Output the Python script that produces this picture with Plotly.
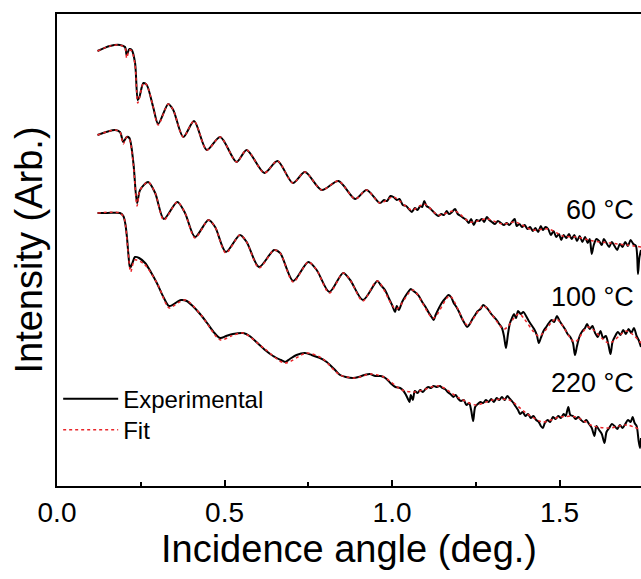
import plotly.graph_objects as go

# ---------------- data (x: incidence angle in deg., y: intensity, arb. units, offset) -------------
exp60_x = [0.121, 0.158, 0.188, 0.203, 0.208, 0.216, 0.223, 0.233, 0.241, 0.246, 0.258, 0.268,
           0.287, 0.302, 0.332, 0.347, 0.377, 0.409, 0.447, 0.487, 0.536, 0.566, 0.619, 0.658,
           0.704, 0.740, 0.790, 0.840, 0.890, 0.924, 0.964, 0.976, 0.985, 0.995, 1.004, 1.014,
           1.022, 1.032, 1.042, 1.050, 1.059, 1.068, 1.076, 1.084, 1.090, 1.096, 1.103, 1.112,
           1.121, 1.130, 1.138, 1.147, 1.155, 1.163, 1.170, 1.179, 1.188, 1.196, 1.205, 1.213,
           1.222, 1.229, 1.236, 1.244, 1.252, 1.260, 1.268, 1.275, 1.283, 1.290, 1.298, 1.307,
           1.316, 1.325, 1.334, 1.342, 1.350, 1.358, 1.366, 1.372, 1.380, 1.388, 1.396, 1.404,
           1.412, 1.420, 1.428, 1.436, 1.444, 1.450, 1.458, 1.466, 1.474, 1.482, 1.490, 1.498,
           1.505, 1.512, 1.520, 1.528, 1.536, 1.544, 1.552, 1.560, 1.568, 1.576, 1.584, 1.590,
           1.596, 1.602, 1.610, 1.618, 1.626, 1.632, 1.640, 1.648, 1.656, 1.664, 1.672, 1.680,
           1.688, 1.696, 1.704, 1.712, 1.720, 1.728, 1.734, 1.738, 1.743]
exp60_y = [435, 440, 441, 439, 431, 437, 436, 423, 386, 389, 403, 401,
           379, 362, 382, 376, 349, 365, 336, 349, 324, 336, 313, 325,
           303, 314, 296, 305, 287, 296, 283, 286, 285, 290, 289, 286,
           287, 281, 280, 277, 274, 278, 276, 280, 279, 285, 280, 278,
           275, 272, 270, 272, 271, 275, 272, 274, 277, 272, 270, 268,
           266, 263, 267, 261, 266, 265, 267, 264, 269, 266, 264, 262,
           265, 263, 261, 263, 261, 264, 267, 260, 262, 259, 261, 257,
           259, 255, 258, 254, 260, 256, 259, 257, 251, 255, 249, 252,
           246, 251, 248, 252, 247, 251, 245, 250, 244, 249, 243, 247,
           232, 241, 247, 245, 241, 247, 243, 239, 244, 240, 236, 242,
           239, 244, 240, 246, 242, 240, 212, 228, 236]

fit60_x = [0.121, 0.158, 0.188, 0.203, 0.208, 0.216, 0.223, 0.233, 0.241, 0.246, 0.258, 0.268,
           0.287, 0.302, 0.332, 0.347, 0.377, 0.409, 0.447, 0.487, 0.536, 0.566, 0.619, 0.658,
           0.704, 0.740, 0.790, 0.840, 0.890, 0.924, 0.964, 1.004, 1.059, 1.096, 1.138, 1.188,
           1.233, 1.283, 1.330, 1.367, 1.420, 1.467, 1.510, 1.550, 1.600, 1.650, 1.700, 1.743]
fit60_y = [435, 440, 441, 438, 428, 436, 435, 421, 383, 388, 403, 401,
           379, 361, 382, 376, 349, 365, 336, 349, 324, 336, 313, 325,
           303, 314, 296, 305, 287, 296, 283, 289, 276, 282, 271, 275,
           264, 267, 262, 264, 256, 257, 250, 249, 245, 243, 241, 239]

exp100_x = [0.121, 0.173, 0.188, 0.198, 0.208, 0.216, 0.228, 0.239, 0.248, 0.272, 0.293, 0.319,
            0.359, 0.382, 0.412, 0.452, 0.472, 0.504, 0.546, 0.566, 0.603, 0.648, 0.666, 0.705,
            0.750, 0.775, 0.813, 0.854, 0.875, 0.913, 0.956, 0.966, 0.979, 0.990, 1.000, 1.009,
            1.014, 1.020, 1.030, 1.040, 1.048, 1.056, 1.064, 1.072, 1.080, 1.090, 1.100, 1.110,
            1.118, 1.124, 1.130, 1.140, 1.150, 1.160, 1.168, 1.176, 1.184, 1.192, 1.200, 1.208,
            1.216, 1.224, 1.232, 1.240, 1.248, 1.256, 1.264, 1.272, 1.280, 1.288, 1.296, 1.304,
            1.312, 1.320, 1.328, 1.334, 1.340, 1.346, 1.352, 1.358, 1.364, 1.370, 1.376, 1.384,
            1.392, 1.400, 1.408, 1.416, 1.424, 1.432, 1.438, 1.444, 1.452, 1.460, 1.468, 1.476,
            1.484, 1.492, 1.500, 1.508, 1.516, 1.524, 1.532, 1.540, 1.546, 1.552, 1.560, 1.568,
            1.576, 1.582, 1.590, 1.598, 1.606, 1.614, 1.622, 1.630, 1.638, 1.646, 1.652, 1.658,
            1.666, 1.674, 1.682, 1.690, 1.698, 1.706, 1.714, 1.722, 1.730, 1.736, 1.743]
exp100_y = [351, 356, 354, 344, 349, 348, 323, 283, 296, 304, 293, 267,
            284, 273, 249, 266, 259, 234, 251, 244, 219, 236, 233, 205,
            224, 216, 194, 213, 206, 186, 205, 201, 196, 188, 181, 174,
            180, 176, 184, 190, 194, 197, 195, 193, 190, 184, 179, 173,
            169, 166, 171, 178, 184, 188, 191, 189, 183, 179, 174, 168,
            163, 159, 162, 167, 171, 175, 177, 181, 179, 176, 172, 169,
            166, 162, 158, 150, 138, 152, 163, 168, 172, 168, 175, 172,
            174, 170, 165, 161, 157, 151, 143, 148, 155, 159, 163, 166,
            164, 170, 165, 161, 157, 152, 149, 143, 131, 140, 150, 155,
            158, 162, 157, 160, 153, 149, 155, 148, 150, 141, 132, 144,
            150, 154, 151, 156, 152, 157, 153, 158, 150, 146, 139]

fit100_x = [0.121, 0.173, 0.188, 0.198, 0.208, 0.216, 0.228, 0.239, 0.248, 0.272, 0.293, 0.319,
            0.359, 0.382, 0.412, 0.452, 0.472, 0.504, 0.546, 0.566, 0.603, 0.648, 0.666, 0.705,
            0.750, 0.775, 0.813, 0.854, 0.875, 0.913, 0.956, 1.012, 1.062, 1.123, 1.172, 1.225,
            1.273, 1.335, 1.378, 1.438, 1.490, 1.545, 1.585, 1.648, 1.700, 1.743]
fit100_y = [351, 356, 354, 342, 349, 347, 321, 280, 296, 304, 293, 266,
            284, 273, 248, 266, 259, 233, 251, 244, 218, 236, 233, 204,
            224, 216, 193, 213, 206, 185, 205, 177, 196, 168, 190, 161,
            180, 157, 172, 150, 167, 144, 159, 143, 155, 143]

exp220_x = [0.121, 0.150, 0.188, 0.198, 0.204, 0.209, 0.213, 0.218, 0.224, 0.233, 0.245, 0.263,
            0.280, 0.298, 0.316, 0.334, 0.345, 0.358, 0.370, 0.387, 0.405, 0.427, 0.448, 0.470,
            0.487, 0.505, 0.525, 0.556, 0.575, 0.595, 0.621, 0.645, 0.668, 0.681, 0.695, 0.715,
            0.740, 0.760, 0.785, 0.805, 0.830, 0.845, 0.862, 0.884, 0.900, 0.918, 0.934, 0.950,
            0.966, 0.980, 0.995, 1.010, 1.024, 1.032, 1.040, 1.046, 1.052, 1.056, 1.062, 1.068,
            1.076, 1.084, 1.092, 1.100, 1.108, 1.116, 1.124, 1.132, 1.143, 1.150, 1.158, 1.166,
            1.174, 1.183, 1.190, 1.198, 1.206, 1.214, 1.222, 1.230, 1.236, 1.242, 1.248, 1.256,
            1.264, 1.272, 1.280, 1.288, 1.296, 1.304, 1.312, 1.320, 1.328, 1.336, 1.344, 1.352,
            1.360, 1.368, 1.376, 1.382, 1.390, 1.398, 1.406, 1.414, 1.422, 1.430, 1.438, 1.444,
            1.450, 1.456, 1.464, 1.472, 1.480, 1.488, 1.496, 1.504, 1.512, 1.518, 1.526, 1.532,
            1.540, 1.548, 1.556, 1.564, 1.572, 1.580, 1.588, 1.596, 1.604, 1.610, 1.618, 1.626,
            1.634, 1.640, 1.648, 1.656, 1.664, 1.672, 1.680, 1.688, 1.696, 1.704, 1.712, 1.718,
            1.724, 1.730, 1.736, 1.740, 1.743]
exp220_y = [273, 273, 273, 270, 262, 248, 232, 218, 222, 229, 228, 223,
            214, 203, 190, 180, 181, 184, 186, 185, 180, 172, 163, 153,
            148, 150, 152, 153, 150, 144, 136, 130, 126, 124, 127, 131,
            133, 131, 128, 124, 116, 111, 109, 108, 109, 111, 112, 110,
            110, 108, 103, 99, 98, 96, 92, 88, 84, 91, 86, 95,
            93, 96, 94, 97, 99, 98, 100, 99, 100, 98, 97, 94,
            92, 89, 91, 87, 85, 86, 81, 83, 76, 65, 79, 82,
            84, 83, 86, 84, 87, 84, 88, 86, 89, 86, 90, 87,
            84, 80, 76, 72, 74, 70, 72, 68, 70, 66, 64, 60,
            58, 63, 66, 64, 69, 67, 70, 68, 72, 70, 79, 71,
            70, 67, 69, 66, 64, 66, 62, 58, 50, 60, 56, 52,
            43, 54, 58, 62, 60, 57, 61, 58, 62, 66, 64, 69,
            63, 60, 45, 38, 48]

fit220_x = [0.121, 0.188, 0.200, 0.212, 0.220, 0.232, 0.260, 0.300, 0.335, 0.360, 0.385, 0.430,
            0.488, 0.520, 0.556, 0.620, 0.680, 0.745, 0.790, 0.845, 0.890, 0.935, 0.975, 1.030,
            1.070, 1.140, 1.200, 1.250, 1.300, 1.350, 1.400, 1.450, 1.500, 1.550, 1.600, 1.650,
            1.700, 1.743]
fit220_y = [273, 273, 268, 235, 214, 226, 222, 202, 178, 183, 186, 171,
            146, 150, 153, 137, 123, 133, 128, 111, 108, 112, 109, 96,
            94, 100, 88, 81, 86, 86, 73, 64, 69, 69, 60, 58,
            61, 56]

curve_labels = ["60 °C", "100 °C", "220 °C"]
label_y = [276, 189, 103]

# ---------------- figure -------------
FONT = "Liberation Sans, Arial, sans-serif"
BLACK = "#000000"
RED = "#e8262a"

fig = go.Figure()
series = [(exp60_x, exp60_y, fit60_x, fit60_y),
          (exp100_x, exp100_y, fit100_x, fit100_y),
          (exp220_x, exp220_y, fit220_x, fit220_y)]
for i, (ex, ey, fx, fy) in enumerate(series):
    fig.add_trace(go.Scatter(x=ex, y=ey, mode="lines", name="Experimental",
                             legend="legend", showlegend=(i == 0),
                             line=dict(color=BLACK, width=2, shape="spline", smoothing=0.8)))
for i, (ex, ey, fx, fy) in enumerate(series):
    fig.add_trace(go.Scatter(x=fx, y=fy, mode="lines", name="Fit",
                             legend="legend2", showlegend=(i == 0),
                             line=dict(color=RED, width=1.5, dash="dot", shape="spline", smoothing=0.8)))

for txt, yy in zip(curve_labels, label_y):
    fig.add_annotation(x=1.727, y=yy, text=txt, showarrow=False, xanchor="right",
                       yanchor="middle", font=dict(family=FONT, size=27, color=BLACK))

legend_style = dict(xanchor="left", yanchor="top",
                    font=dict(family=FONT, size=24, color=BLACK),
                    bgcolor="rgba(0,0,0,0)", itemwidth=55)

fig.update_layout(
    width=641, height=579,
    margin=dict(l=57, r=0, t=14, b=93),
    paper_bgcolor="white", plot_bgcolor="white",
    font=dict(family=FONT, color=BLACK),
    showlegend=True,
    legend=dict(x=0.002, y=0.2315, **legend_style),
    legend2=dict(x=0.002, y=0.166, **legend_style),
    xaxis=dict(range=[0, 1.743], showgrid=False, zeroline=False, automargin=False,
               showline=True, linecolor=BLACK, linewidth=2, mirror=True,
               tickmode="array", tickvals=[0, 0.5, 1.0, 1.5],
               ticktext=["0.0", "0.5", "1.0", "1.5"],
               ticks="inside", ticklen=6, tickwidth=2, tickcolor=BLACK,
               minor=dict(tickvals=[0.25, 0.75, 1.25], ticks="inside", ticklen=4,
                          tickwidth=2, tickcolor=BLACK),
               tickfont=dict(family=FONT, size=28, color=BLACK),
               title=dict(text="Incidence angle (deg.)", standoff=8,
                          font=dict(family=FONT, size=38, color=BLACK))),
    yaxis=dict(range=[0, 472], showgrid=False, zeroline=False, automargin=False,
               showline=True, linecolor=BLACK, linewidth=2, mirror=False,
               showticklabels=False, ticks="",
               title=dict(text="Intensity (Arb.)", standoff=1,
                          font=dict(family=FONT, size=38, color=BLACK))),
)

fig.write_html("out.html", config={"displayModeBar": False},
               post_script="document.body.style.margin='0px';document.body.style.overflow='hidden';")
